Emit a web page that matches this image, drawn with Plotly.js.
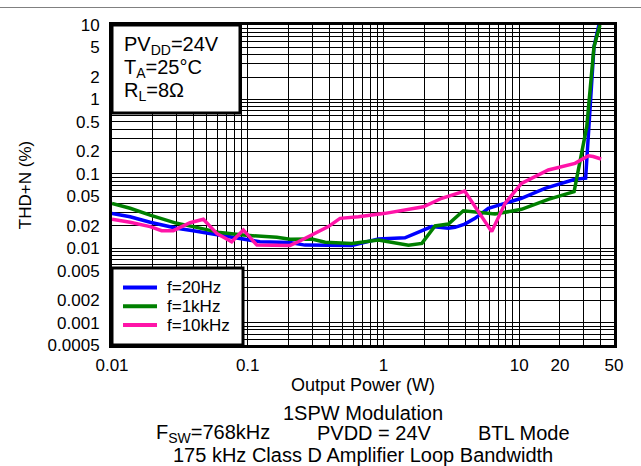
<!DOCTYPE html>
<html>
<head>
<meta charset="utf-8">
<script src="https://cdn.plot.ly/plotly-3.0.1.min.js"></script>
<style>
html,body{margin:0;padding:0;background:#fff;}
#chart{width:641px;height:466px;}
</style>
</head>
<body>
<div id="chart"></div>
<script>
// ---- data (Output Power in W, THD+N in %) ----
const power20Hz = [0.01, 0.0136, 0.0191, 0.030, 0.0397, 0.0527, 0.070, 0.0929, 0.123, 0.205, 0.264, 0.584, 0.917, 1.44, 2.27, 3.01, 3.37, 3.97, 4.73, 5.93, 10.4, 15.5, 25.8, 30.9, 35.6, 38.7];
const thd20Hz   = [0.0294, 0.0265, 0.0223, 0.0185, 0.0172, 0.0158, 0.0146, 0.0136, 0.0122, 0.0119, 0.0110, 0.0109, 0.0133, 0.0138, 0.0195, 0.0185, 0.0191, 0.0211, 0.0252, 0.0344, 0.0469, 0.0638, 0.0844, 0.0871, 5.1, 10];

const power1kHz = [0.01, 0.0136, 0.0191, 0.0239, 0.030, 0.0397, 0.0527, 0.0625, 0.0929, 0.123, 0.164, 0.205, 0.296, 0.372, 0.584, 0.917, 1.087, 1.53, 1.92, 2.40, 3.01, 3.88, 6.64, 10.4, 16.4, 25.4, 31.5, 35.6, 39.4];
const thd1kHz   = [0.0401, 0.0344, 0.0279, 0.0245, 0.0216, 0.0195, 0.0176, 0.0162, 0.0150, 0.0146, 0.0140, 0.0132, 0.0133, 0.0120, 0.0116, 0.0129, 0.0122, 0.0110, 0.0116, 0.0199, 0.0211, 0.0319, 0.0288, 0.0333, 0.0454, 0.0574, 0.43, 5.1, 10];

const power10kHz = [0.01, 0.0136, 0.0191, 0.0232, 0.0283, 0.0376, 0.0471, 0.0591, 0.0762, 0.0929, 0.117, 0.154, 0.205, 0.236, 0.313, 0.393, 0.479, 0.654, 1.03, 1.44, 1.97, 2.69, 3.97, 6.28, 7.87, 10.4, 16.4, 25.8, 32.4, 35.1, 40.2];
const thd10kHz   = [0.0245, 0.0223, 0.0195, 0.0172, 0.0172, 0.0220, 0.0245, 0.0158, 0.0122, 0.0176, 0.0110, 0.0109, 0.0109, 0.0122, 0.0158, 0.0195, 0.0252, 0.0265, 0.0294, 0.0326, 0.0361, 0.0469, 0.0587, 0.0167, 0.0401, 0.0745, 0.1125, 0.138, 0.175, 0.171, 0.158];

const seriesNames  = ["f=20Hz", "f=1kHz", "f=10kHz"];
const seriesColors = ["#0000ff", "#008000", "#ff14a8"];

// tick labels
const xTickLabels = ["0.01", "0.1", "1", "10", "20", "50"];
const yTickLabels = ["10", "5", "2", "1", "0.5", "0.2", "0.1", "0.05", "0.02", "0.01", "0.005", "0.002", "0.001", "0.0005"];

const xRange = [0.01, 50];
const yRange = [0.0005, 10];

// grid positions: every 1..9 multiple of each decade within range
function logGrid(lo, hi) {
  const vals = [];
  for (let e = -5; e <= 3; e++) {
    for (let m = 1; m <= 9; m++) {
      const v = parseFloat((m * Math.pow(10, e)).toPrecision(6));
      if (v >= lo * 0.9999 && v <= hi * 1.0001) vals.push(v);
    }
  }
  return vals;
}
function labelsFor(vals, labels) {
  return vals.map(v => {
    const l = labels.find(s => Math.abs(parseFloat(s) - v) / v < 1e-6);
    return l === undefined ? "" : l;
  });
}
const xGrid = logGrid(xRange[0], xRange[1]);
const yGrid = logGrid(yRange[0], yRange[1]);

const FONT = "Liberation Sans, Arial, Helvetica, sans-serif";

const xs = [power20Hz, power1kHz, power10kHz];
const ys = [thd20Hz, thd1kHz, thd10kHz];
const traces = seriesNames.map((n, i) => ({
  x: xs[i], y: ys[i], name: n, mode: "lines", showlegend: false,
  line: {color: seriesColors[i], width: 3.5}
}));

const W = 502, H = 320; // plot area size in px

// legend drawn as a boxed key in the lower-left corner of the plot
const legendShapes = [
  {type: "rect", xref: "paper", yref: "paper", x0: 0, x1: 131 / W, y0: 0, y1: 77 / H,
   fillcolor: "#ffffff", line: {color: "#000", width: 3}, layer: "above"}
];
const legendRowsY = [57.5, 38.8, 20]; // px above the plot bottom
const legendAnn = [];
seriesNames.forEach((n, i) => {
  legendShapes.push({type: "line", xref: "paper", yref: "paper", x0: 11 / W, x1: 45 / W,
    y0: legendRowsY[i] / H, y1: legendRowsY[i] / H, line: {color: seriesColors[i], width: 4}, layer: "above"});
  legendAnn.push({xref: "paper", yref: "paper", x: 53 / W, y: legendRowsY[i] / H, xanchor: "left", yanchor: "middle",
    showarrow: false, text: n, font: {family: FONT, size: 17, color: "#000"}});
});

const layout = {
  width: 641, height: 466,
  margin: {l: 112, r: 27, t: 25, b: 121, pad: 0},
  paper_bgcolor: "#ffffff", plot_bgcolor: "#ffffff",
  font: {family: FONT, color: "#000", size: 17},
  showlegend: false,
  xaxis: {
    type: "log", range: [Math.log10(xRange[0]), Math.log10(xRange[1])],
    tickmode: "array", tickvals: xGrid, ticktext: labelsFor(xGrid, xTickLabels),
    ticks: "", showgrid: true, gridcolor: "#000", gridwidth: 1,
    showline: true, linecolor: "#000", linewidth: 3, mirror: true,
    zeroline: false, ticklabelstandoff: 3,
    tickfont: {family: FONT, size: 17, color: "#000"},
    title: {text: "Output Power (W)", font: {family: FONT, size: 18, color: "#000"}, standoff: 3}
  },
  yaxis: {
    type: "log", range: [Math.log10(yRange[0]), Math.log10(yRange[1])],
    tickmode: "array", tickvals: yGrid, ticktext: labelsFor(yGrid, yTickLabels),
    ticks: "", showgrid: true, gridcolor: "#000", gridwidth: 1,
    showline: true, linecolor: "#000", linewidth: 3, mirror: true,
    zeroline: false, ticklabelstandoff: 6,
    tickfont: {family: FONT, size: 17, color: "#000"},
    title: {text: "THD+N (%)", font: {family: FONT, size: 17, color: "#000"}, standoff: 12}
  },
  shapes: [
    // conditions box
    {type: "rect", xref: "paper", yref: "paper", x0: 0, x1: 128 / W, y0: 1 - 88 / H, y1: 1,
     fillcolor: "#ffffff", line: {color: "#000", width: 3}, layer: "above"},
    // top separator line
    {type: "line", xref: "paper", yref: "paper", x0: -112 / W, x1: 529 / W, y0: 1 + 17.5 / H, y1: 1 + 17.5 / H,
     line: {color: "#808080", width: 1}}
  ].concat(legendShapes),
  annotations: [
    {xref: "paper", yref: "paper", x: 10 / W, y: 1 - 20 / H, xanchor: "left", yanchor: "middle", showarrow: false,
     text: "PV<sub>DD</sub>=24V", font: {family: FONT, size: 20, color: "#000"}},
    {xref: "paper", yref: "paper", x: 10 / W, y: 1 - 43 / H, xanchor: "left", yanchor: "middle", showarrow: false,
     text: "T<sub>A</sub>=25°C", font: {family: FONT, size: 20, color: "#000"}},
    {xref: "paper", yref: "paper", x: 10 / W, y: 1 - 66 / H, xanchor: "left", yanchor: "middle", showarrow: false,
     text: "R<sub>L</sub>=8Ω", font: {family: FONT, size: 20, color: "#000"}},
    {xref: "paper", yref: "paper", x: 0.5, y: 1 - 388 / H, xanchor: "center", yanchor: "middle", showarrow: false,
     text: "1SPW Modulation", font: {family: FONT, size: 20, color: "#000"}},
    {xref: "paper", yref: "paper", x: (213 - 112) / W, y: 1 - 408 / H, xanchor: "center", yanchor: "middle", showarrow: false,
     text: "F<sub>SW</sub>=768kHz", font: {family: FONT, size: 20, color: "#000"}},
    {xref: "paper", yref: "paper", x: (374 - 112) / W, y: 1 - 408 / H, xanchor: "center", yanchor: "middle", showarrow: false,
     text: "PVDD = 24V", font: {family: FONT, size: 20, color: "#000"}},
    {xref: "paper", yref: "paper", x: (524 - 112) / W, y: 1 - 408 / H, xanchor: "center", yanchor: "middle", showarrow: false,
     text: "BTL Mode", font: {family: FONT, size: 20, color: "#000"}},
    {xref: "paper", yref: "paper", x: 0.5, y: 1 - 430 / H, xanchor: "center", yanchor: "middle", showarrow: false,
     text: "175 kHz Class D Amplifier Loop Bandwidth", font: {family: FONT, size: 20, color: "#000"}}
  ].concat(legendAnn)
};

Plotly.newPlot("chart", traces, layout, {displayModeBar: false, staticPlot: true});
</script>
</body>
</html>
